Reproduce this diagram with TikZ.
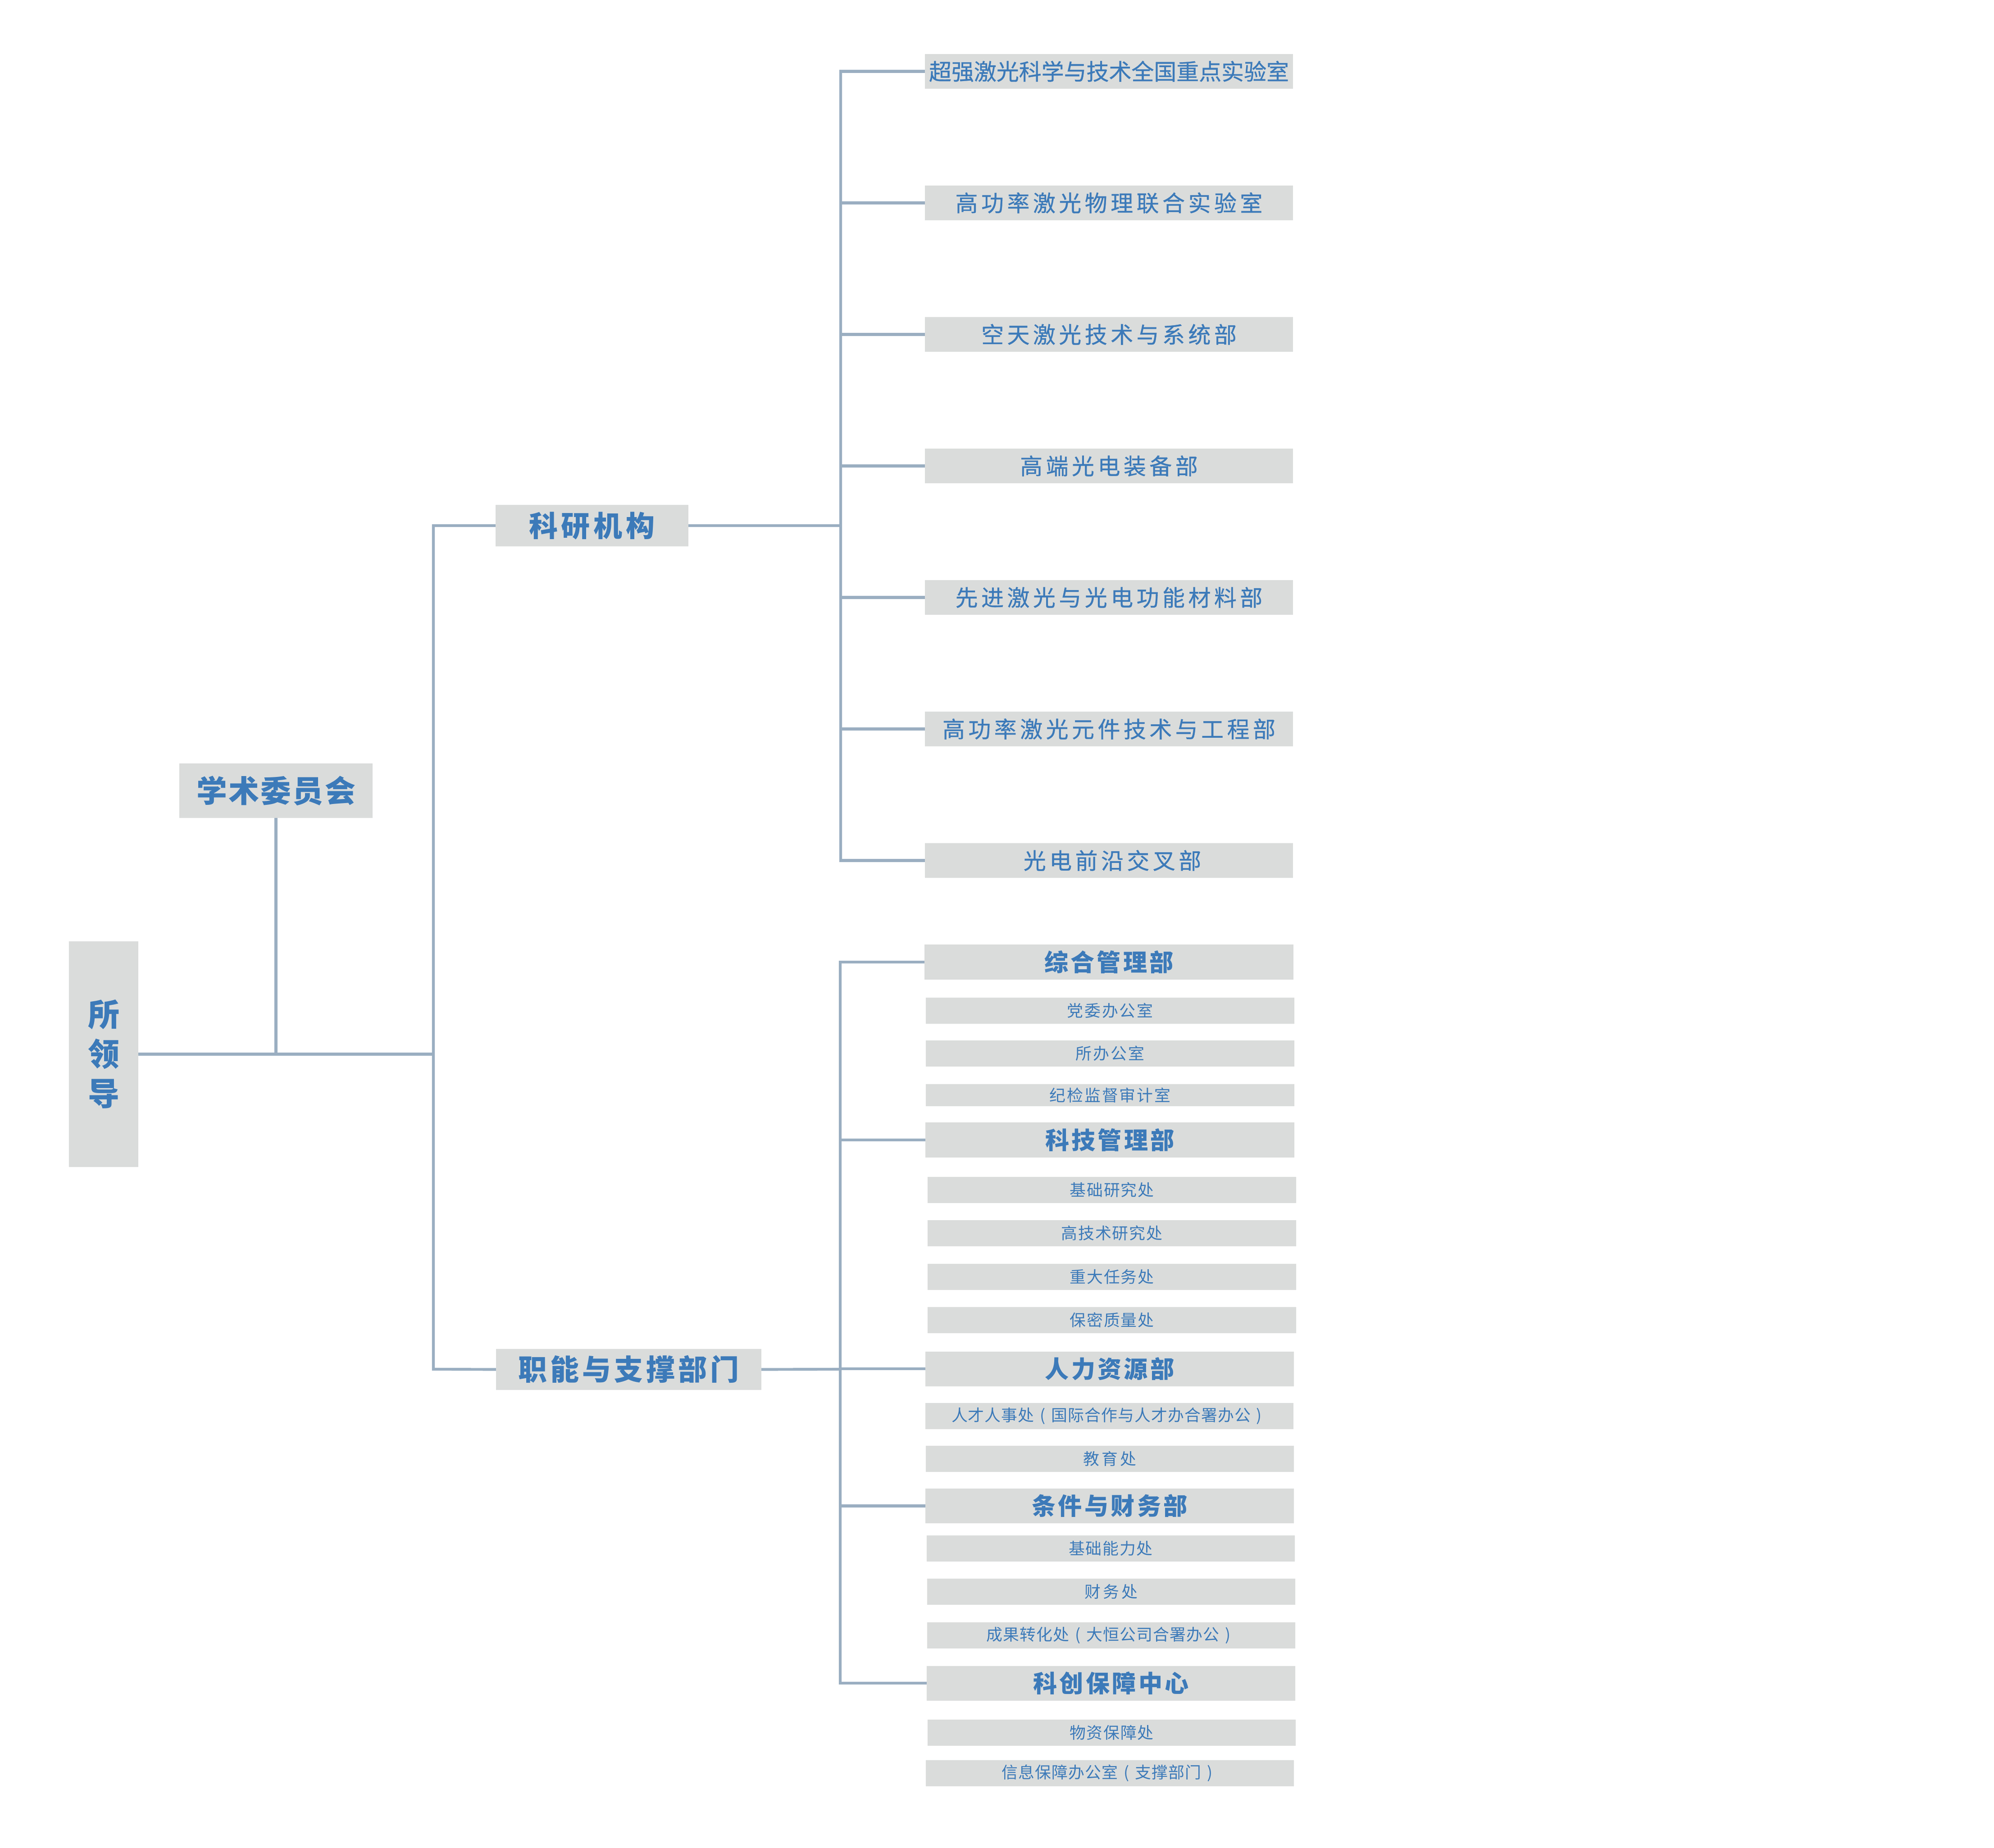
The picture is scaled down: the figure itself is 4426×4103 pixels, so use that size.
\documentclass[tikz,border=0pt]{standalone}
\usepackage{fontspec}
\setmainfont{Noto Sans CJK SC}
\newfontfamily\cjkmed[FakeBold=0.7]{Noto Sans CJK SC}
\usetikzlibrary{backgrounds}
\definecolor{boxgray}{HTML}{DADCDB}
\definecolor{txtblue}{HTML}{3C7AB9}
\definecolor{linegray}{HTML}{9AAEC1}
\newcommand\trk[2]{\def\trkamt{#1}\trkfirst#2\relax}
\def\trkfirst#1{#1\trkloop}
\def\trkloop#1{\ifx#1\relax\else\hspace{\trkamt}#1\expandafter\trkloop\fi}
\newcommand\lpar{\makebox[1em][c]{(}}
\newcommand\rpar{\makebox[1em][c]{)}}
\tikzset{
  base/.style={rectangle, fill=boxgray, inner sep=0pt, text=txtblue, align=center},
  topbox/.style={base, font=\bfseries\fontsize{19.3}{23}\selectfont},
  midbox/.style={base, font=\bfseries\fontsize{18.2}{22}\selectfont},
  resbox/.style={base, minimum width=8.17cm, minimum height=0.77cm, font=\cjkmed\fontsize{14.2}{17}\selectfont},
  deptbox/.style={base, minimum width=8.18cm, minimum height=0.77cm, font=\bfseries\fontsize{15.1}{18}\selectfont},
  subbox/.style={base, minimum width=8.17cm, minimum height=0.58cm, font=\fontsize{10.2}{12}\selectfont},
  conn/.style={draw=linegray, line width=1.75pt, line cap=rect}
}
\begin{document}
\begin{tikzpicture}[x=0.01cm,y=-0.01cm]
\useasboundingbox (0,0) rectangle (4426,4103);
% left part
\node[base, minimum width=1.54cm, minimum height=5.01cm, font=\bfseries\fontsize{19.9}{25}\selectfont] (sld) at (230,2340.5) {所\\领\\导};
\node[topbox, minimum width=4.29cm, minimum height=1.21cm] (xswz) at (612.5,1755.5) {\trk{0.05em}{学术委员会}};
\node[midbox, minimum width=4.28cm, minimum height=0.92cm] (kyjg) at (1314,1167) {\trk{0.125em}{科研机构}};
\node[midbox, minimum width=5.89cm, minimum height=0.91cm] (znbm) at (1395.5,3040.5) {\trk{0.11em}{职能与支撑部门}};
% research units
\node[resbox] (r1) at (2461.5,158.5) {超强激光科学与技术全国重点实验室};
\node[resbox] (r2) at (2461.5,450.5) {\trk{0.15em}{高功率激光物理联合实验室}};
\node[resbox] (r3) at (2461.5,742.5) {\trk{0.15em}{空天激光技术与系统部}};
\node[resbox] (r4) at (2461.5,1034.5) {\trk{0.15em}{高端光电装备部}};
\node[resbox] (r5) at (2461.5,1326.5) {\trk{0.15em}{先进激光与光电功能材料部}};
\node[resbox] (r6) at (2461.5,1618.5) {\trk{0.15em}{高功率激光元件技术与工程部}};
\node[resbox] (r7) at (2461.5,1910.5) {\hspace*{0.3em}\trk{0.15em}{光电前沿交叉部}};
% functional departments
\node[deptbox] (d1) at (2461.5,2136) {\trk{0.1em}{综合管理部}};
\node[subbox] (s11) at (2464,2243.5) {\trk{0.08em}{党委办公室}};
\node[subbox] (s12) at (2464,2339) {\trk{0.08em}{所办公室}};
\node[subbox, minimum height=0.49cm] (s13) at (2464,2431.5) {\trk{0.08em}{纪检监督审计室}};
\node[deptbox] (d2) at (2463.5,2531) {\trk{0.1em}{科技管理部}};
\node[subbox] (s21) at (2468,2641.5) {\trk{0.05em}{基础研究处}};
\node[subbox] (s22) at (2468,2738) {\trk{0.05em}{高技术研究处}};
\node[subbox] (s23) at (2468,2835) {\trk{0.05em}{重大任务处}};
\node[subbox] (s24) at (2468,2931) {\trk{0.05em}{保密质量处}};
\node[deptbox] (d3) at (2463,3039) {\trk{0.1em}{人力资源部}};
\node[subbox] (s31) at (2462.5,3143.5) {\trk{0.03em}{人才人事处\lpar 国际合作与人才办合署办公\rpar}};
\node[subbox] (s32) at (2463.5,3239) {\trk{0.15em}{教育处}};
\node[deptbox] (d4) at (2463,3343.5) {\trk{0.1em}{条件与财务部}};
\node[subbox] (s41) at (2465.5,3438) {\trk{0.05em}{基础能力处}};
\node[subbox] (s42) at (2466.5,3534) {\trk{0.15em}{财务处}};
\node[subbox] (s43) at (2466.5,3631) {\trk{0.03em}{成果转化处\lpar 大恒公司合署办公\rpar}};
\node[deptbox] (d5) at (2466,3737) {\trk{0.1em}{科创保障中心}};
\node[subbox] (s51) at (2467.5,3847) {\trk{0.05em}{物资保障处}};
\node[subbox] (s52) at (2463.5,3937) {\trk{0.03em}{信息保障办公室\lpar 支撑部门\rpar}};
% connectors
\coordinate (tk1) at (962,1167);
\coordinate (tk2) at (962,3040);
\coordinate (tkm) at (962,2340.5);
\coordinate (rv) at (1866,1167);
\coordinate (fv) at (1865,3040);
\begin{scope}[on background layer]
\draw[conn] (sld.east) -- (tkm);
\draw[conn] (xswz.south) -- (xswz.south |- sld.east);
\draw[conn] (kyjg.west) -- (tk1) -- (tk2) -- (znbm.west);
\draw[conn] (kyjg.east) -- (rv);
\draw[conn] (rv |- r1.west) -- (rv |- r7.west);
\foreach \n in {r1,r2,r3,r4,r5,r6,r7} \draw[conn] (rv |- \n.west) -- (\n.west);
\draw[conn] (znbm.east) -- (fv);
\draw[conn] (fv |- d1.west) -- (fv |- d5.west);
\foreach \n in {d1,d2,d3,d4,d5} \draw[conn] (fv |- \n.west) -- (\n.west);
\end{scope}
\end{tikzpicture}
\end{document}
